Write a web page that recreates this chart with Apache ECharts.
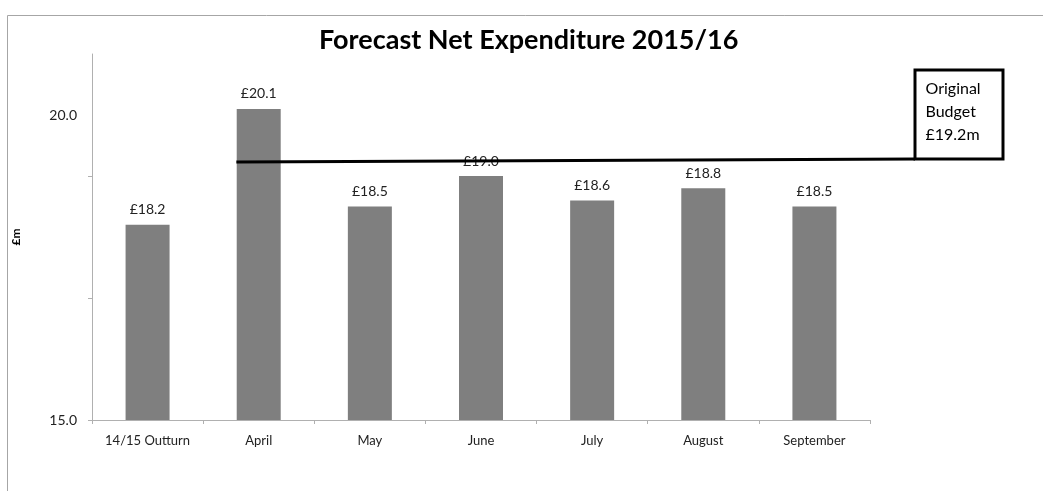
<!DOCTYPE html>
<html>
<head>
<meta charset="utf-8">
<script src="https://cdn.jsdelivr.net/npm/echarts@6/dist/echarts.min.js"></script>
<style>html,body{margin:0;padding:0;background:#fff}#c{width:1043px;height:491px}</style>
</head>
<body>
<div id="c"></div>
<script>
var titleText = 'Forecast Net Expenditure 2015/16';
var categories = ['14/15 Outturn', 'April', 'May', 'June', 'July', 'August', 'September'];
var values = [18.2, 20.1, 18.5, 19.0, 18.6, 18.8, 18.5];
var yLabelValues = [15, 20];
var yTickValues = [15, 17, 19];
var budgetLabel = 'Original\nBudget\n£19.2m';
// budget line drawn as in the original (slightly uneven), x in category units
var budgetLine = [[1.3, 19.23], [7.41, 19.28]];

var FONT = 'Lato, "Open Sans", sans-serif';
var chart = echarts.init(document.getElementById('c'));
chart.setOption({
  backgroundColor: '#fff',
  animation: false,
  title: {
    text: titleText, left: 314, top: 22,
    textStyle: { fontFamily: FONT, fontSize: 27, fontWeight: 'bold', color: '#000' }
  },
  graphic: [{
    type: 'rect', shape: { x: 7.5, y: 15.5, width: 1050, height: 490 },
    style: { fill: 'none', stroke: '#a6a6a6', lineWidth: 1 }, silent: true
  }],
  grid: [
    { left: 92, right: 173, top: 54, bottom: 71 },
    { left: 92, right: 128, top: 54, bottom: 71 }
  ],
  xAxis: [{
    type: 'category', data: categories, gridIndex: 0,
    axisLine: { lineStyle: { color: '#b0b0b0', width: 1 } },
    axisTick: { show: true, length: 4, lineStyle: { color: '#b0b0b0' } },
    axisLabel: { fontFamily: FONT, fontSize: 13, color: '#222', margin: 14 }
  }, {
    type: 'value', gridIndex: 1, min: 0, max: 7.41, show: false
  }],
  yAxis: [{
    type: 'value', gridIndex: 0, min: 15, max: 21, interval: 1,
    name: '£m', nameLocation: 'middle', nameGap: 70, nameRotate: 90,
    nameTextStyle: { fontFamily: FONT, fontSize: 12, fontWeight: 'bold', color: '#000' },
    axisLine: { show: true, lineStyle: { color: '#b0b0b0', width: 1 } },
    axisTick: { show: true, length: 4, lineStyle: { color: '#b0b0b0' }, customValues: yTickValues },
    axisLabel: { fontFamily: FONT, fontSize: 14, color: '#222', margin: 15,
      customValues: yLabelValues, formatter: function (v) { return v.toFixed(1); } },
    splitLine: { show: false }
  }, {
    type: 'value', gridIndex: 1, min: 15, max: 21, interval: 1, show: false
  }],
  series: [{
    type: 'bar', data: values, barWidth: 44, xAxisIndex: 0, yAxisIndex: 0,
    itemStyle: { color: '#7f7f7f' },
    label: { show: true, position: 'top', distance: 8,
      fontFamily: FONT, fontSize: 14, color: '#222',
      formatter: function (p) { return '£' + p.value.toFixed(1); } },
    z: 2
  }, {
    type: 'line', xAxisIndex: 1, yAxisIndex: 1, data: budgetLine, clip: false,
    symbol: 'none', lineStyle: { color: '#000', width: 3 }, z: 10,
    markPoint: {
      symbol: 'rect', symbolSize: [88, 89], symbolOffset: ['50%', '-50%'],
      itemStyle: { color: '#fff', borderColor: '#000', borderWidth: 3 },
      label: { show: true, position: [12, 9], align: 'left', verticalAlign: 'top',
        fontFamily: FONT, fontSize: 16, lineHeight: 23, color: '#000',
        formatter: function () { return budgetLabel; } },
      data: [{ coord: budgetLine[1] }]
    }
  }]
});
</script>
</body>
</html>
